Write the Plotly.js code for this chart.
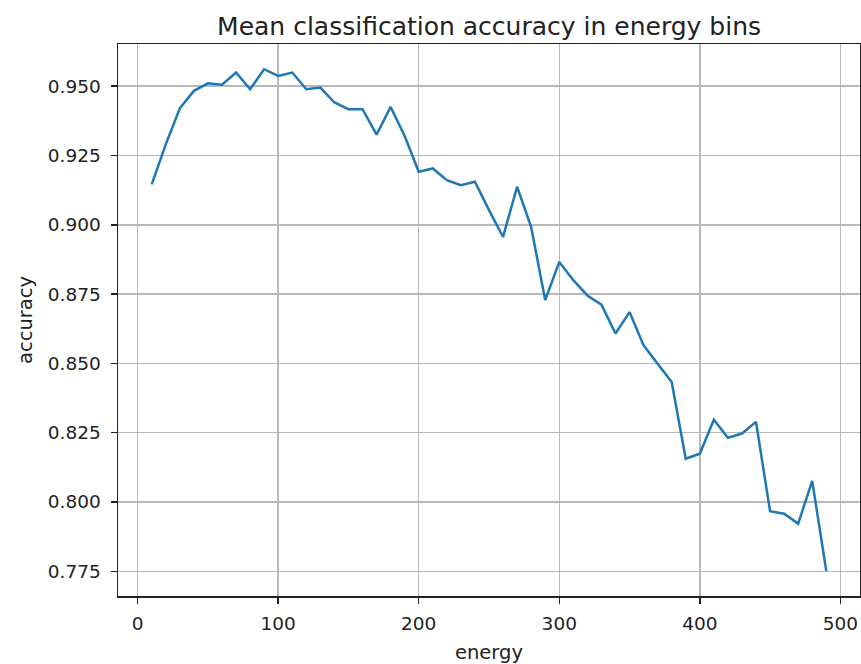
<!DOCTYPE html>
<html>
<head>
<meta charset="utf-8">
<script src="https://cdn.plot.ly/plotly-3.0.1.min.js"></script>
<style>html,body{margin:0;padding:0;background:#fff;}#chart{width:861px;height:664px;}</style>
</head>
<body>
<div id="chart"></div>
<script>
const energy = [10,20,30,40,50,60,70,80,90,100,110,120,130,140,150,160,170,180,190,200,210,220,230,240,250,260,270,280,290,300,310,320,330,340,350,360,370,380,390,400,410,420,430,440,450,460,470,480,490];
const accuracy = [0.9146,0.9290,0.9420,0.9483,0.9510,0.9505,0.9549,0.9489,0.9561,0.9537,0.9549,0.9489,0.9495,0.9441,0.9417,0.9417,0.9325,0.9425,0.9320,0.9191,0.9203,0.9161,0.9143,0.9155,0.9053,0.8956,0.9137,0.8992,0.8728,0.8866,0.8800,0.8745,0.8712,0.8608,0.8685,0.8565,0.8499,0.8433,0.8156,0.8174,0.8297,0.8232,0.8247,0.8289,0.7967,0.7958,0.7922,0.8076,0.7751];
const yTicks = [0.775,0.800,0.825,0.850,0.875,0.900,0.925,0.950];
const xTicks = [0,100,200,300,400,500];

const tickFont = {family: 'DejaVu Sans', size: 18.5, color: '#222'};
const labelFont = {family: 'DejaVu Sans', size: 19.5, color: '#222'};
Plotly.newPlot('chart', [{
  x: energy, y: accuracy, type: 'scatter', mode: 'lines',
  line: {color: '#1f77b4', width: 2.5}
}], {
  width: 861, height: 664,
  paper_bgcolor: '#fff', plot_bgcolor: '#fff',
  margin: {l: 118, r: 1, t: 44, b: 68, pad: 0},
  font: tickFont,
  showlegend: false,
  title: {text: 'Mean classification accuracy in energy bins', font: {family: 'DejaVu Sans', size: 25, color: '#222'},
          x: 0.568, xanchor: 'center', y: 0.961, yanchor: 'middle', yref: 'container'},
  xaxis: {
    range: [-14, 514], tickvals: xTicks, ticks: 'outside', ticklen: 6, tickwidth: 1.5, tickcolor: '#222',
    ticklabelstandoff: 4,
    showline: true, mirror: true, linecolor: '#222', linewidth: 1.5,
    showgrid: true, gridcolor: '#b8b8b8', gridwidth: 1.5, zeroline: false,
    tickfont: tickFont, automargin: false,
    title: {text: 'energy', font: labelFont, standoff: 12}
  },
  yaxis: {
    range: [0.7661, 0.9652], tickvals: yTicks, tickformat: '.3f', ticks: 'outside', ticklen: 6, tickwidth: 1.5, tickcolor: '#222',
    ticklabelstandoff: 6,
    showline: true, mirror: true, linecolor: '#222', linewidth: 1.5,
    showgrid: true, gridcolor: '#b8b8b8', gridwidth: 1.5, zeroline: false,
    tickfont: tickFont, automargin: false,
    title: {text: 'accuracy', font: labelFont, standoff: 10}
  }
}, {staticPlot: true, displayModeBar: false});
</script>
</body>
</html>
